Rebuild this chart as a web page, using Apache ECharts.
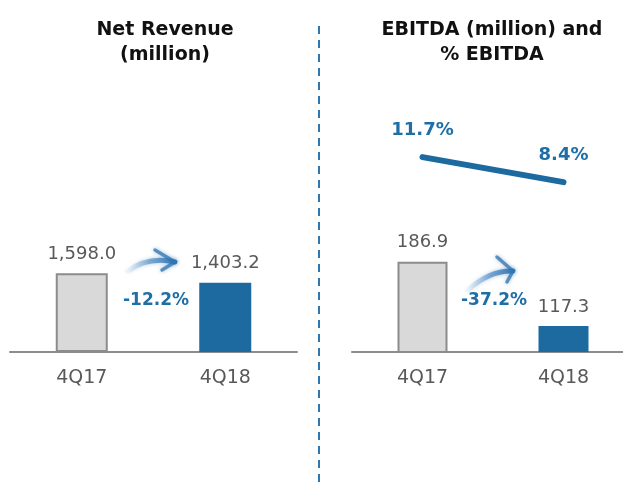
<!DOCTYPE html>
<html>
<head>
<meta charset="utf-8">
<script src="https://cdn.jsdelivr.net/npm/echarts@6/dist/echarts.min.js"></script>
<style>
  html, body { margin: 0; padding: 0; background: #fff; }
  #chart { width: 623px; height: 486px; }
</style>
</head>
<body>
<div id="chart"></div>
<script>
// Quarterly figures
const categories = ['4Q17', '4Q18'];
const netRevenue = [1598.0, 1403.2];
const ebitda = [186.9, 117.3];
const ebitdaMargin = [11.7, 8.4];
const changeLabels = ['-12.2%', '-37.2%'];

const FONT = 'DejaVu Sans';
const BLUE = '#1c6aa0';
const LABEL_BLUE = '#1f6fa6';
const GREY_TEXT = '#595959';

const fmt1 = v => v.toLocaleString('en-US', { minimumFractionDigits: 1, maximumFractionDigits: 1 });

function barItems(values) {
  return values.map((v, i) => ({
    value: v,
    itemStyle: i === 0
      ? { color: '#d9d9d9', borderColor: '#8c8c8c', borderWidth: 2 }
      : { color: BLUE }
  }));
}

function catAxis(gridIndex, show) {
  return {
    type: 'category', gridIndex, data: categories, show,
    axisLine: { lineStyle: { color: '#8c8c8c', width: 2 } },
    axisTick: { show: false },
    axisLabel: { color: GREY_TEXT, fontFamily: FONT, fontSize: 19, margin: 17 }
  };
}

const barLabel = {
  show: true, position: 'top', distance: 10,
  color: GREY_TEXT, fontFamily: FONT, fontSize: 18,
  formatter: p => fmt1(p.value)
};

// Curved brush-style arrow between the two bars
function arrow(x0, y0, cx, cy, x1, y1, headA, headB) {
  const grad = new echarts.graphic.LinearGradient(x0, 0, x1, 0, [
    { offset: 0, color: 'rgba(120,170,215,0.1)' },
    { offset: 0.45, color: 'rgba(70,135,195,0.6)' },
    { offset: 1, color: 'rgba(40,110,175,0.9)' }
  ], true);
  const soft = { shadowBlur: 4, shadowColor: 'rgba(60,120,180,0.6)' };
  return {
    type: 'group', silent: true,
    children: [
      {
        type: 'bezierCurve',
        shape: { x1: x0, y1: y0, x2: x1, y2: y1, cpx1: cx, cpy1: cy },
        style: Object.assign({ stroke: grad, lineWidth: 5, fill: null, lineCap: 'round' }, soft)
      },
      {
        type: 'polyline',
        shape: { points: [headA, [x1, y1], headB] },
        style: Object.assign({ stroke: 'rgba(45,115,178,0.75)', lineWidth: 3.5, fill: null,
                 lineCap: 'round', lineJoin: 'round' }, soft)
      }
    ]
  };
}

const chart = echarts.init(document.getElementById('chart'), null, { renderer: 'canvas' });

const gridBase = { outerBoundsMode: 'none', containLabel: false };

chart.setOption({
  animation: false,
  backgroundColor: '#ffffff',
  title: [
    {
      text: 'Net Revenue\n(million)', left: 160, top: 13, textAlign: 'center',
      textStyle: { fontFamily: FONT, fontSize: 19, fontWeight: 'bold', color: '#111', lineHeight: 25 }
    },
    {
      text: 'EBITDA (million) and\n% EBITDA', left: 487, top: 13, textAlign: 'center',
      textStyle: { fontFamily: FONT, fontSize: 19, fontWeight: 'bold', color: '#111', lineHeight: 25 }
    }
  ],
  grid: [
    Object.assign({ left: 10, width: 287, top: 56, bottom: 134 }, gridBase),
    Object.assign({ left: 352, width: 282, top: 56, bottom: 134 }, gridBase),
    Object.assign({ left: 352, width: 282, top: 132, bottom: 240 }, gridBase)
  ],
  xAxis: [catAxis(0, true), catAxis(1, true), catAxis(2, false)],
  yAxis: [
    { type: 'value', gridIndex: 0, min: 0, max: 6000, show: false, splitLine: { show: false } },
    { type: 'value', gridIndex: 1, min: 89, max: 410, show: false, splitLine: { show: false } },
    { type: 'value', gridIndex: 2, min: 0, max: 15, show: false, splitLine: { show: false } }
  ],
  series: [
    {
      type: 'bar', xAxisIndex: 0, yAxisIndex: 0, barWidth: 52,
      data: barItems(netRevenue), label: barLabel
    },
    {
      type: 'bar', xAxisIndex: 1, yAxisIndex: 1, barWidth: 50,
      data: barItems(ebitda), label: barLabel
    },
    {
      type: 'line', xAxisIndex: 2, yAxisIndex: 2, data: ebitdaMargin,
      symbol: 'circle', symbolSize: 1,
      itemStyle: { color: BLUE },
      lineStyle: { color: BLUE, width: 6, cap: 'round' },
      label: {
        show: true, position: 'top', distance: 17,
        color: LABEL_BLUE, fontFamily: FONT, fontSize: 18, fontWeight: 'bold',
        formatter: p => p.value.toFixed(1) + '%'
      }
    }
  ],
  graphic: [
    {
      type: 'line', silent: true,
      shape: { x1: 319, y1: 26, x2: 319, y2: 486 },
      style: { stroke: '#2e77b0', lineWidth: 2, lineDash: [8, 6] }
    },
    {
      type: 'text', left: 123, top: 292,
      style: { text: changeLabels[0], fill: LABEL_BLUE, font: 'bold 17px "DejaVu Sans"' }
    },
    {
      type: 'text', left: 461, top: 292,
      style: { text: changeLabels[1], fill: LABEL_BLUE, font: 'bold 17px "DejaVu Sans"' }
    },
    arrow(128, 271, 148, 256, 175, 262, [155, 250], [162, 270]),
    arrow(468, 290, 490, 270, 513, 271, [497, 257], [507, 282])
  ]
});
</script>
</body>
</html>
